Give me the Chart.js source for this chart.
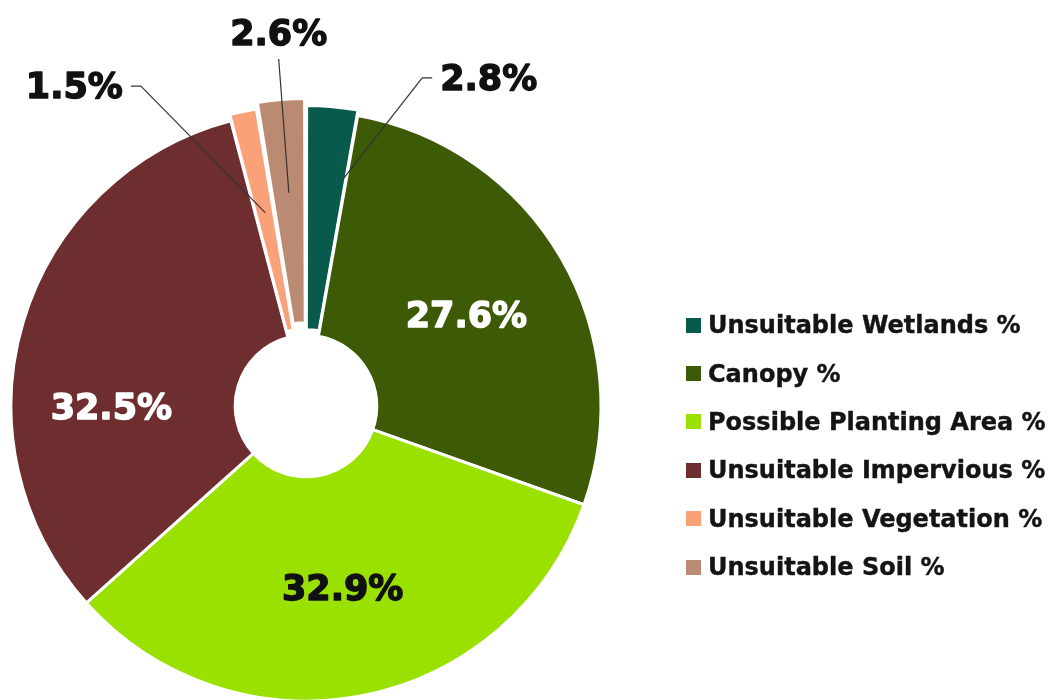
<!DOCTYPE html>
<html>
<head>
<meta charset="utf-8">
<script src="https://cdn.jsdelivr.net/npm/chart.js@4.4.1/dist/chart.umd.min.js"></script>
<style>
  body { margin: 0; background: #fff; overflow: hidden; }
  #wrap { position: absolute; left: 0; top: 0; width: 1057px; height: 700px; }
  #legend { position: absolute; left: 686px; top: 301px; font: bold 24px 'DejaVu Sans', sans-serif; color: #141414; -webkit-text-stroke: 0.4px #141414; }
  .item { display: flex; align-items: center; height: 48.4px; white-space: nowrap; }
  .box { width: 15px; height: 15px; margin-right: 7px; flex: none; }
</style>
</head>
<body>
<div id="wrap"><canvas id="pie" width="1057" height="700"></canvas></div>
<div id="legend"></div>
<script>
const categories = ['Unsuitable Wetlands %', 'Canopy %', 'Possible Planting Area %',
  'Unsuitable Impervious %', 'Unsuitable Vegetation %', 'Unsuitable Soil %'];
const values = [2.8, 27.6, 32.9, 32.5, 1.5, 2.6];
const valueLabels = ['2.8%', '27.6%', '32.9%', '32.5%', '1.5%', '2.6%'];
const colors = ['#075a4c', '#3d5a06', '#9ae000', '#6e2d2e', '#f9a27a', '#bb8a72'];
const sliceOffsets = [12, 0, 0, 0, 13, 27];

// where each value label goes: angle (deg, clockwise from top) and radius as share of outer radius
const labelPlacement = [
  { type: 'out', anchorAng: 9.3, anchorR: 0.78, elbowAng: 19.5, elbowR: 1.18, dir: 1 },
  { type: 'in', ang: 61.3, r: 0.62, color: '#ffffff' },
  { type: 'in', ang: 168.8, r: 0.64, color: '#111111' },
  { type: 'in', ang: 268.8, r: 0.66, color: '#ffffff' },
  { type: 'out', anchorAng: -11.9, anchorR: 0.67, elbowAng: -27.3, elbowR: 1.22, dir: -1 },
  { type: 'out', anchorAng: -4.6, anchorR: 0.725, elbowAng: -4.5, elbowR: 1.18, dir: 0 }
];

const valueLabelPlugin = {
  id: 'valueLabels',
  afterDatasetsDraw(chart) {
    const ctx = chart.ctx;
    const arcs = chart.getDatasetMeta(0).data;
    ctx.save();
    ctx.font = "bold 35px 'DejaVu Sans', sans-serif";
    ctx.lineJoin = 'round';
    const heavyText = (txt, x, y, col) => {
      ctx.fillStyle = col;
      ctx.strokeStyle = col;
      ctx.lineWidth = 1.4;
      ctx.fillText(txt, x, y);
      ctx.strokeText(txt, x, y);
    };
    arcs.forEach((arc, i) => {
      const p = labelPlacement[i];
      const R = arc.outerRadius;
      const pt = (a, r) => {
        const t = a * Math.PI / 180;
        return { x: arc.x + r * R * Math.sin(t), y: arc.y - r * R * Math.cos(t) };
      };
      if (p.type === 'in') {
        const c = pt(p.ang, p.r);
        ctx.textAlign = 'center';
        ctx.textBaseline = 'middle';
        heavyText(valueLabels[i], c.x, c.y, p.color);
        return;
      }
      const a = pt(p.anchorAng, p.anchorR);
      const e = pt(p.elbowAng, p.elbowR);
      ctx.strokeStyle = '#333';
      ctx.lineWidth = 1.2;
      ctx.beginPath();
      ctx.moveTo(a.x, a.y);
      ctx.lineTo(e.x, e.y);
      if (p.dir !== 0) ctx.lineTo(e.x + p.dir * 10, e.y);
      ctx.stroke();
      if (p.dir === 0) {
        ctx.textAlign = 'center';
        ctx.textBaseline = 'bottom';
        heavyText(valueLabels[i], e.x, e.y - 6, '#111111');
      } else {
        ctx.textAlign = p.dir > 0 ? 'left' : 'right';
        ctx.textBaseline = 'middle';
        heavyText(valueLabels[i], e.x + p.dir * 18, e.y + 3, '#111111');
      }
    });
    ctx.restore();
  }
};

new Chart(document.getElementById('pie'), {
  type: 'doughnut',
  data: {
    labels: categories,
    datasets: [{
      data: values,
      backgroundColor: colors,
      borderColor: '#ffffff',
      borderWidth: 3,
      offset: sliceOffsets
    }]
  },
  options: {
    responsive: false,
    animation: false,
    radius: 295,
    cutout: '24%',
    layout: { padding: { left: 0, right: 445, top: 112, bottom: 0 } },
    plugins: { legend: { display: false }, tooltip: { enabled: false } }
  },
  plugins: [valueLabelPlugin]
});

const legend = document.getElementById('legend');
categories.forEach((c, i) => {
  const item = document.createElement('div');
  item.className = 'item';
  item.innerHTML = `<span class="box" style="background:${colors[i]}"></span><span>${c}</span>`;
  legend.appendChild(item);
});
</script>
</body>
</html>
